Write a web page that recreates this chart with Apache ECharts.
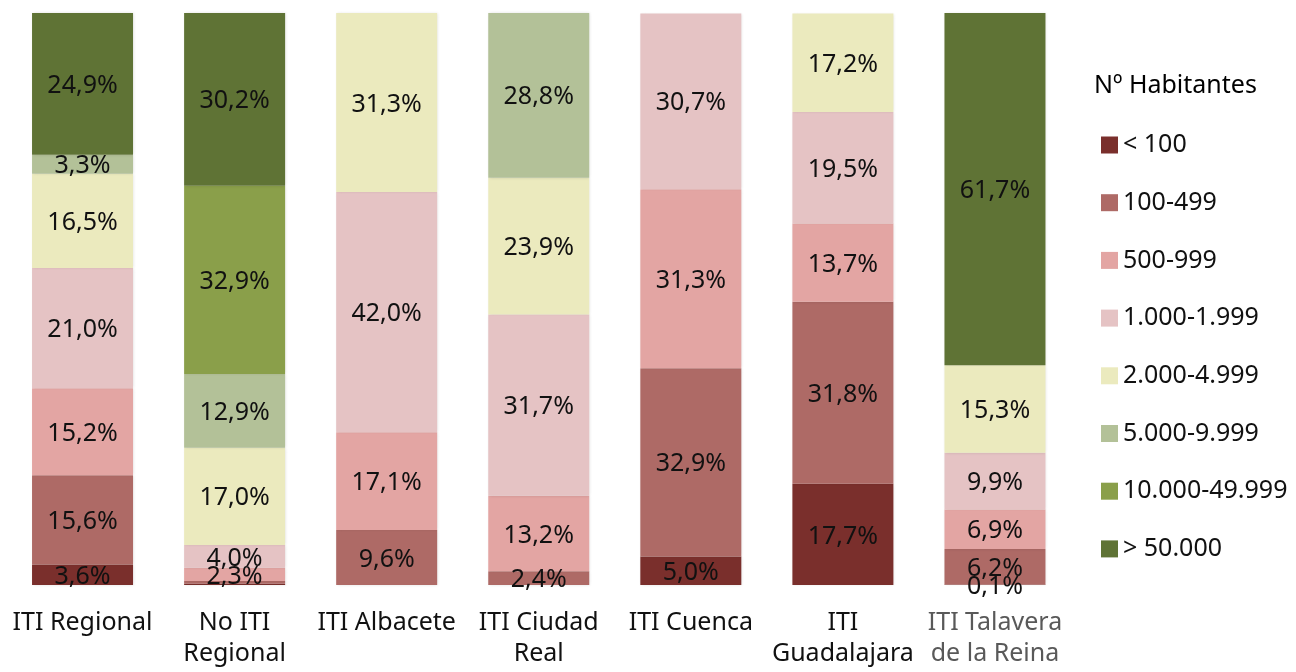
<!DOCTYPE html>
<html>
<head>
<meta charset="utf-8">
<script src="https://cdn.jsdelivr.net/npm/echarts@6/dist/echarts.min.js"></script>
<style>
	html, body { margin: 0; padding: 0; background: #fff; }
	#charts { width: 1296px; height: 672px; }
</style>
</head>
<body>
<div id="charts"></div>
<script>
// categories (line breaks as in the picture)
const categories = ['ITI Regional', 'No ITI\nRegional', 'ITI Albacete', 'ITI Ciudad\nReal', 'ITI Cuenca', 'ITI\nGuadalajara', 'ITI Talavera\nde la Reina'];
const groups = ['< 100', '100-499', '500-999', '1.000-1.999', '2.000-4.999', '5.000-9.999', '10.000-49.999', '> 50.000'];

// % per group, one value per category
const lt100     = [3.6, 0.2, 0,    0,    5.0,  17.7, 0.1];
const g100_499  = [15.6, 0.5, 9.6, 2.4,  32.9, 31.8, 6.2];
const g500_999  = [15.2, 2.3, 17.1, 13.2, 31.3, 13.7, 6.9];
const g1000     = [21.0, 4.0, 42.0, 31.7, 30.7, 19.5, 9.9];
const g2000     = [16.5, 17.0, 31.3, 23.9, 0,   17.2, 15.3];
const g5000     = [3.3, 12.9, 0,    28.8, 0,    0,    0];
const g10000    = [0,   32.9, 0,    0,    0,    0,    0];
const gt50000   = [24.9, 30.2, 0,   0,    0,    0,    61.7];

// slivers drawn without a label: [category, group]
const noLabel = [[1, 0], [1, 1]];

const values = [lt100, g100_499, g500_999, g1000, g2000, g5000, g10000, gt50000];
const colors = ['#7a2f2c', '#ae6a66', '#e3a5a3', '#e5c3c4', '#ebeabe', '#b3c198', '#8a9f4a', '#5f7335'];
const legendColors = ['#7a2f2c', '#bf7b77', '#e3a5a3', '#eecccc', '#ebeabe', '#c8d3ae', '#8a9f4a', '#5f7335'];

const FONT = 'Noto Sans';

const myChart = echarts.init(document.getElementById('charts'));

const seriesList = [];
values.forEach((data, g) => {
	seriesList.push({
		type: 'bar',
		name: groups[g],
		stack: 'total',
		barWidth: 101,
		color: legendColors[g],
		itemStyle: {
			color: colors[g],
			shadowBlur: 3,
			shadowOffsetX: 1,
			shadowColor: 'rgba(0,0,0,0.12)'
		},
		label: {
			show: true,
			position: 'inside',
			offset: [0, 2],
			color: '#111',
			fontFamily: FONT,
			fontSize: 25,
			formatter: (p) => {
				if (!p.value) return '';
				if (noLabel.some(n => n[0] === p.dataIndex && n[1] === g)) return '';
				return p.value.toFixed(1).replace('.', ',') + '%';
			}
		},
		emphasis: { disabled: true },
		data: data
	});
});

const option = {
	animation: false,
	title: {
		text: 'Nº Habitantes',
		left: 1089,
		top: 68,
		textStyle: { fontFamily: FONT, fontSize: 25, fontWeight: 'normal', color: '#000' }
	},
	legend: {
		orient: 'vertical',
		left: 1096,
		top: 125,
		itemWidth: 17,
		itemHeight: 17,
		itemGap: 27.7,
		icon: 'rect',
		textStyle: { fontFamily: FONT, fontSize: 25, color: '#111', lineHeight: 30 },
		data: groups
	},
	grid: {
		left: 6.5,
		right: 225,
		top: 13,
		bottom: 87
	},
	xAxis: {
		type: 'category',
		data: categories.map((c, i) => i === categories.length - 1 ? { value: c, textStyle: { color: '#595959' } } : c),
		axisLine: { show: false },
		axisTick: { show: false },
		axisLabel: {
			interval: 0,
			margin: 22,
			fontFamily: FONT,
			fontSize: 25,
			lineHeight: 31,
			color: '#111'
		}
	},
	yAxis: {
		type: 'value',
		min: 0,
		max: 100,
		show: false
	},
	series: seriesList
};

myChart.setOption(option);
</script>
</body>
</html>
